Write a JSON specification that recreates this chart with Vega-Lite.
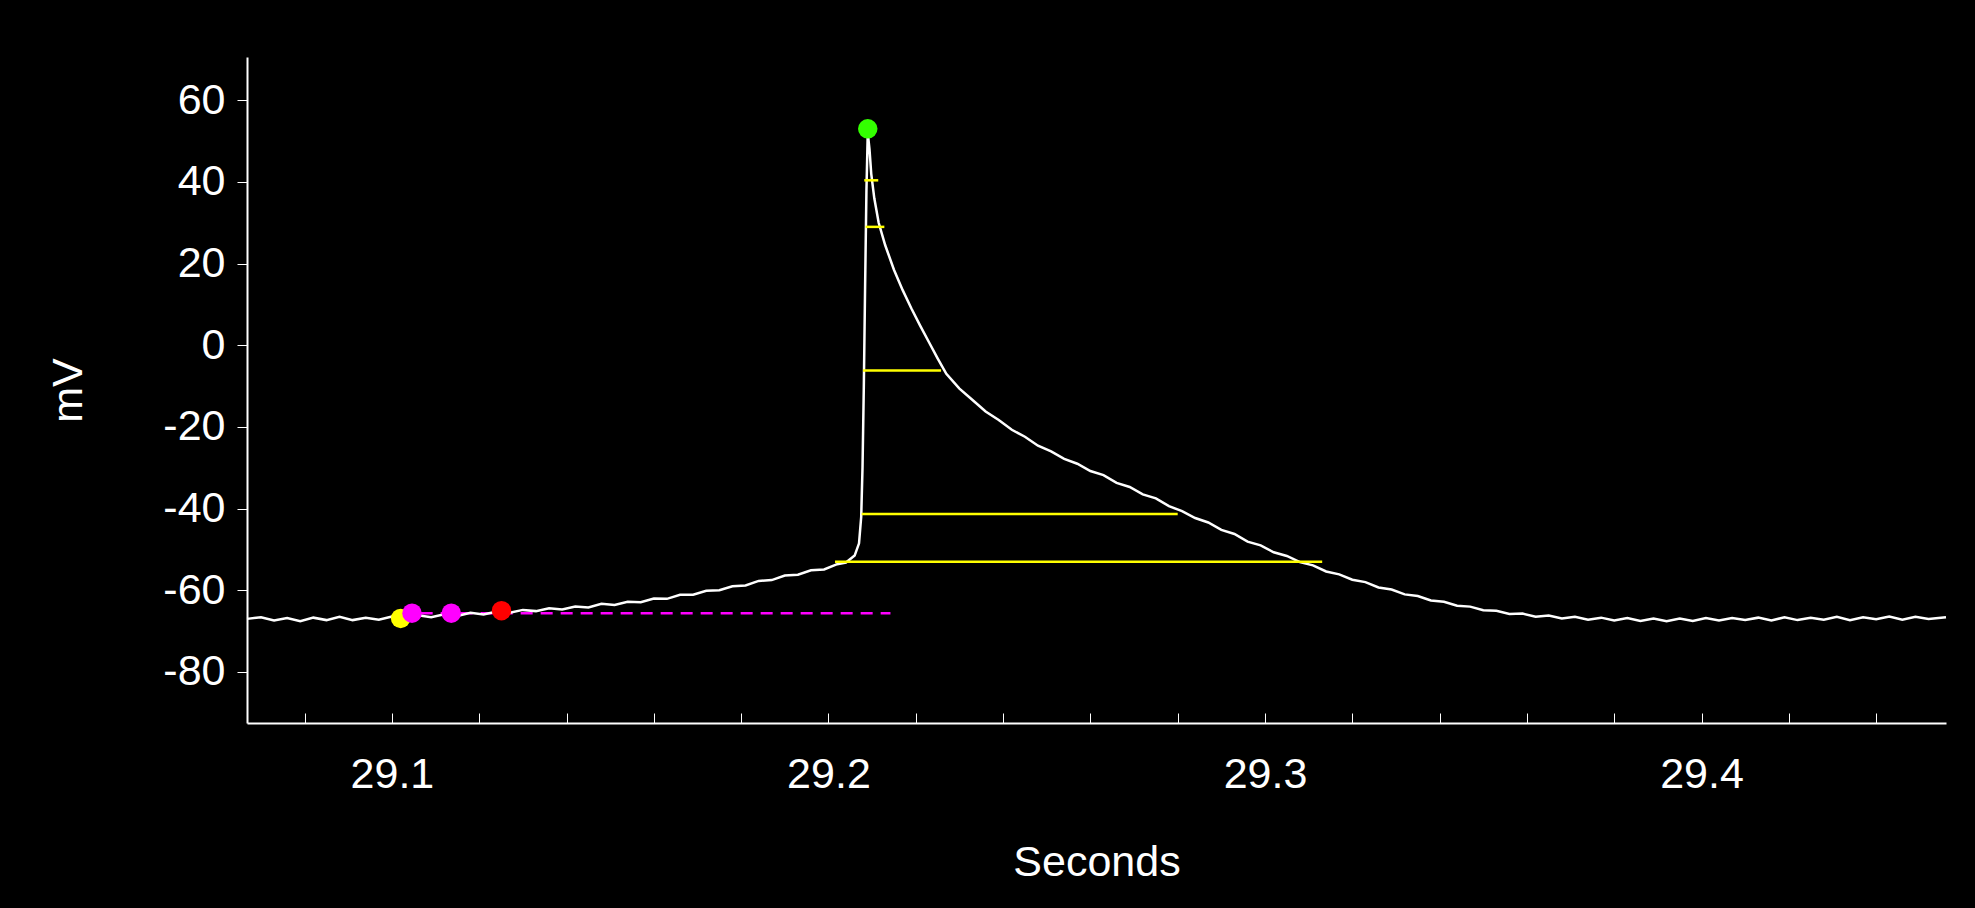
{
  "$schema": "https://vega.github.io/schema/vega-lite/v6.json",
  "background": "black",
  "width": 1699,
  "height": 666,
  "autosize": {"type": "none"},
  "padding": {"left": 247, "top": 57, "right": 29, "bottom": 185},
  "config": {
    "font": "Liberation Sans",
    "view": {"stroke": null},
    "axis": {"domainColor": "white", "tickColor": "white", "labelColor": "white", "titleColor": "white", "grid": false, "labelFontSize": 43, "titleFontSize": 43, "titleFontWeight": "normal", "domainWidth": 2}
  },
  "datasets": {
    "trace": [
      {"t": 29.0668, "v": -67.0}, {"t": 29.070, "v": -66.6}, {"t": 29.073, "v": -67.4}, {"t": 29.076, "v": -66.8},
      {"t": 29.079, "v": -67.6}, {"t": 29.082, "v": -66.7}, {"t": 29.085, "v": -67.3}, {"t": 29.088, "v": -66.5},
      {"t": 29.091, "v": -67.3}, {"t": 29.094, "v": -66.7}, {"t": 29.097, "v": -67.2}, {"t": 29.100, "v": -66.4},
      {"t": 29.103, "v": -66.9}, {"t": 29.106, "v": -66.1}, {"t": 29.109, "v": -66.6}, {"t": 29.112, "v": -65.9},
      {"t": 29.115, "v": -66.3}, {"t": 29.118, "v": -65.5}, {"t": 29.121, "v": -65.9}, {"t": 29.124, "v": -65.2},
      {"t": 29.127, "v": -65.5}, {"t": 29.130, "v": -64.8}, {"t": 29.133, "v": -65.1}, {"t": 29.136, "v": -64.4},
      {"t": 29.139, "v": -64.7}, {"t": 29.142, "v": -64.0}, {"t": 29.145, "v": -64.2}, {"t": 29.148, "v": -63.3},
      {"t": 29.151, "v": -63.6}, {"t": 29.154, "v": -62.8}, {"t": 29.157, "v": -62.9}, {"t": 29.160, "v": -62.0},
      {"t": 29.163, "v": -62.1}, {"t": 29.166, "v": -61.1}, {"t": 29.169, "v": -61.1}, {"t": 29.172, "v": -60.1},
      {"t": 29.175, "v": -60.0}, {"t": 29.178, "v": -59.0}, {"t": 29.181, "v": -58.8}, {"t": 29.184, "v": -57.7},
      {"t": 29.187, "v": -57.5}, {"t": 29.190, "v": -56.4}, {"t": 29.193, "v": -56.2}, {"t": 29.196, "v": -55.1},
      {"t": 29.199, "v": -54.9}, {"t": 29.202, "v": -53.6}, {"t": 29.204, "v": -53.2}, {"t": 29.206, "v": -51.5},
      {"t": 29.207, "v": -48.5}, {"t": 29.2075, "v": -42.0}, {"t": 29.2078, "v": -30.0}, {"t": 29.2081, "v": -10.0},
      {"t": 29.2084, "v": 15.0}, {"t": 29.2087, "v": 38.0}, {"t": 29.2090, "v": 52.0}, {"t": 29.2094, "v": 48.0},
      {"t": 29.2098, "v": 42.0}, {"t": 29.2105, "v": 36.0}, {"t": 29.2115, "v": 30.0}, {"t": 29.213, "v": 24.5},
      {"t": 29.215, "v": 18.5}, {"t": 29.217, "v": 13.5}, {"t": 29.219, "v": 9.0}, {"t": 29.221, "v": 4.8},
      {"t": 29.223, "v": 0.8}, {"t": 29.225, "v": -3.2}, {"t": 29.227, "v": -7.0}, {"t": 29.230, "v": -10.6},
      {"t": 29.233, "v": -13.4}, {"t": 29.236, "v": -16.2}, {"t": 29.239, "v": -18.3}, {"t": 29.242, "v": -20.7},
      {"t": 29.245, "v": -22.4}, {"t": 29.248, "v": -24.6}, {"t": 29.251, "v": -26.0}, {"t": 29.254, "v": -27.8},
      {"t": 29.257, "v": -29.0}, {"t": 29.260, "v": -30.8}, {"t": 29.263, "v": -31.8}, {"t": 29.266, "v": -33.7},
      {"t": 29.269, "v": -34.7}, {"t": 29.272, "v": -36.5}, {"t": 29.275, "v": -37.5}, {"t": 29.278, "v": -39.4},
      {"t": 29.281, "v": -40.6}, {"t": 29.284, "v": -42.3}, {"t": 29.287, "v": -43.4}, {"t": 29.290, "v": -45.2},
      {"t": 29.293, "v": -46.2}, {"t": 29.296, "v": -48.1}, {"t": 29.299, "v": -49.0}, {"t": 29.302, "v": -50.7},
      {"t": 29.305, "v": -51.6}, {"t": 29.308, "v": -53.1}, {"t": 29.311, "v": -53.9}, {"t": 29.314, "v": -55.4},
      {"t": 29.317, "v": -56.1}, {"t": 29.320, "v": -57.4}, {"t": 29.323, "v": -58.0}, {"t": 29.326, "v": -59.3},
      {"t": 29.329, "v": -59.8}, {"t": 29.332, "v": -61.0}, {"t": 29.335, "v": -61.4}, {"t": 29.338, "v": -62.5},
      {"t": 29.341, "v": -62.8}, {"t": 29.344, "v": -63.8}, {"t": 29.347, "v": -64.0}, {"t": 29.350, "v": -64.9},
      {"t": 29.353, "v": -65.0}, {"t": 29.356, "v": -65.8}, {"t": 29.359, "v": -65.7}, {"t": 29.362, "v": -66.5},
      {"t": 29.365, "v": -66.2}, {"t": 29.368, "v": -66.9}, {"t": 29.371, "v": -66.5}, {"t": 29.374, "v": -67.2},
      {"t": 29.377, "v": -66.7}, {"t": 29.380, "v": -67.4}, {"t": 29.383, "v": -66.8}, {"t": 29.386, "v": -67.5},
      {"t": 29.389, "v": -66.9}, {"t": 29.392, "v": -67.6}, {"t": 29.395, "v": -66.9}, {"t": 29.398, "v": -67.5},
      {"t": 29.401, "v": -66.8}, {"t": 29.404, "v": -67.4}, {"t": 29.407, "v": -66.8}, {"t": 29.410, "v": -67.3},
      {"t": 29.413, "v": -66.7}, {"t": 29.416, "v": -67.4}, {"t": 29.419, "v": -66.6}, {"t": 29.422, "v": -67.3},
      {"t": 29.425, "v": -66.7}, {"t": 29.428, "v": -67.2}, {"t": 29.431, "v": -66.5}, {"t": 29.434, "v": -67.3},
      {"t": 29.437, "v": -66.6}, {"t": 29.440, "v": -67.1}, {"t": 29.443, "v": -66.4}, {"t": 29.446, "v": -67.2},
      {"t": 29.449, "v": -66.5}, {"t": 29.452, "v": -67.0}, {"t": 29.456, "v": -66.6}
    ],
    "levels": [
      {"t1": 29.2082, "t2": 29.2114, "v": 40.4, "kind": "width"},
      {"t1": 29.2085, "t2": 29.2128, "v": 29.0, "kind": "width"},
      {"t1": 29.2079, "t2": 29.2258, "v": -6.2, "kind": "width"},
      {"t1": 29.2076, "t2": 29.2800, "v": -41.3, "kind": "width"},
      {"t1": 29.2015, "t2": 29.3131, "v": -53.0, "kind": "width"}
    ],
    "markers": [
      {"t": 29.1020, "v": -66.9, "kind": "threshold"},
      {"t": 29.1046, "v": -65.6, "kind": "baseline start"},
      {"t": 29.1136, "v": -65.6, "kind": "baseline end"},
      {"t": 29.1251, "v": -65.0, "kind": "onset"},
      {"t": 29.2090, "v": 53.0, "kind": "peak"}
    ],
    "baseline": [{"t1": 29.1020, "t2": 29.2142, "v": -65.6}]
  },
  "layer": [
    {
      "data": {"name": "baseline"},
      "mark": {"type": "rule", "color": "#ff00ff", "strokeWidth": 2.5, "strokeDash": [12, 8]},
      "encoding": {
        "x": {"field": "t1", "type": "quantitative"},
        "x2": {"field": "t2"},
        "y": {"field": "v", "type": "quantitative"}
      }
    },
    {
      "data": {"name": "trace"},
      "mark": {"type": "line", "color": "white", "strokeWidth": 2.5},
      "encoding": {
        "x": {
          "field": "t", "type": "quantitative", "title": "Seconds",
          "scale": {"domain": [29.0668, 29.456], "nice": false, "zero": false},
          "axis": {
            "values": [29.08, 29.1, 29.12, 29.14, 29.16, 29.18, 29.2, 29.22, 29.24, 29.26, 29.28, 29.3, 29.32, 29.34, 29.36, 29.38, 29.4, 29.42, 29.44],
            "labelExpr": "abs(datum.value * 10 - round(datum.value * 10)) < 0.001 ? format(datum.value, '.1f') : ''",
            "tickSize": -10, "labelPadding": 40, "titlePadding": 45, "labelFlush": false
          }
        },
        "y": {
          "field": "v", "type": "quantitative", "title": "mV",
          "scale": {"domain": [-92.5, 70.6], "nice": false, "zero": false},
          "axis": {"values": [-80, -60, -40, -20, 0, 20, 40, 60], "labelExpr": "'' + datum.value", "tickSize": 10, "labelPadding": 12, "titlePadding": 72}
        }
      }
    },
    {
      "data": {"name": "levels"},
      "mark": {"type": "rule", "color": "#ffff00", "strokeWidth": 2.5},
      "encoding": {
        "x": {"field": "t1", "type": "quantitative"},
        "x2": {"field": "t2"},
        "y": {"field": "v", "type": "quantitative"}
      }
    },
    {
      "data": {"name": "markers"},
      "mark": {"type": "circle", "size": 380, "opacity": 1},
      "encoding": {
        "x": {"field": "t", "type": "quantitative"},
        "y": {"field": "v", "type": "quantitative"},
        "color": {
          "field": "kind", "type": "nominal", "legend": null,
          "scale": {"domain": ["threshold", "baseline start", "baseline end", "onset", "peak"], "range": ["#ffff00", "#ff00ff", "#ff00ff", "#ff0000", "#33ff00"]}
        }
      }
    }
  ]
}
